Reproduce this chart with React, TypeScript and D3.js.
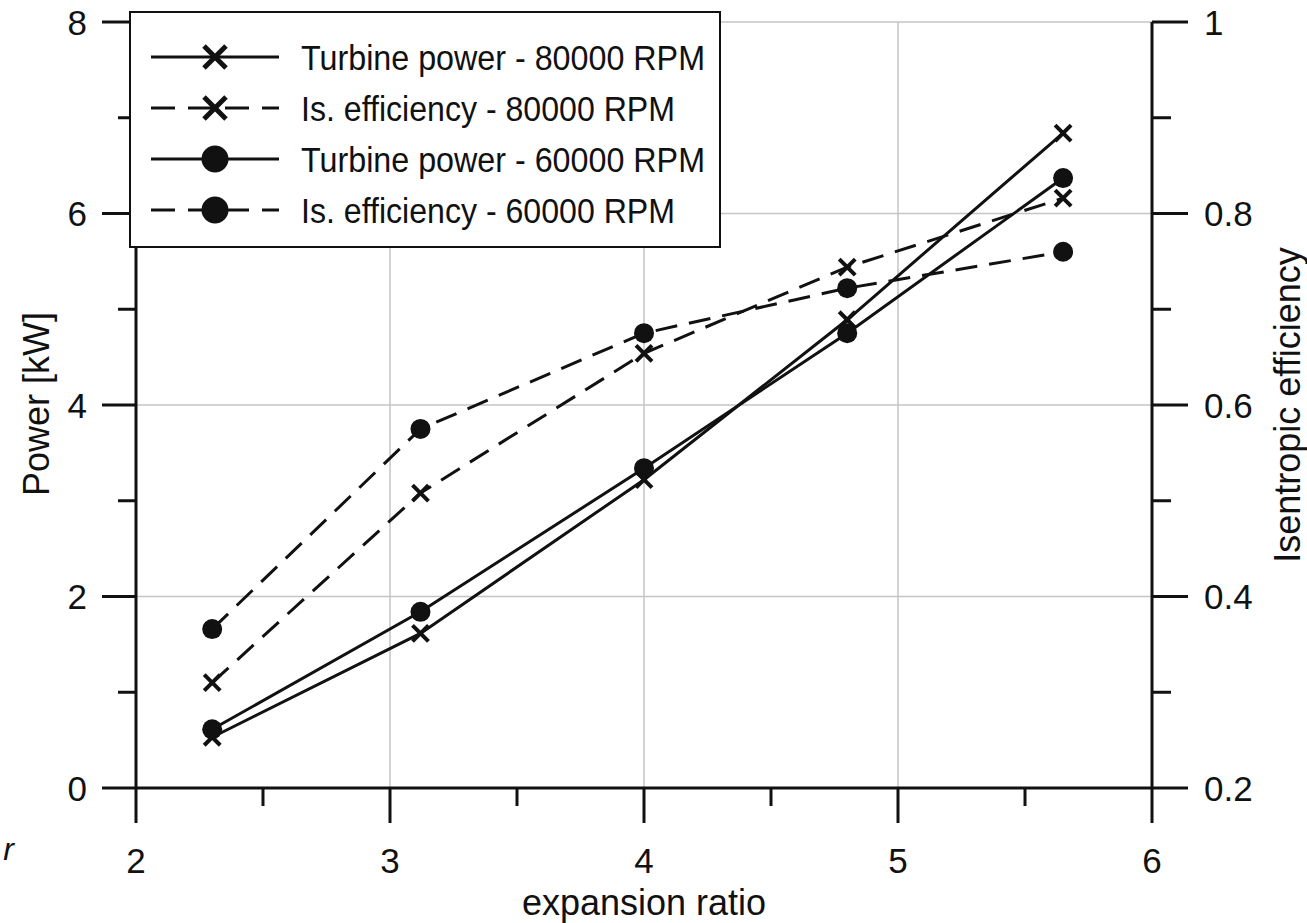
import React from "react";
import * as d3 from "d3";

const expansionRatio = [2.3, 3.12, 4.0, 4.8, 5.65];
const power80k = [0.53, 1.615, 3.22, 4.89, 6.84];
const power60k = [0.613, 1.84, 3.34, 4.75, 6.37];
const eff80k = [0.31, 0.508, 0.654, 0.744, 0.816];
const eff60k = [0.366, 0.575, 0.675, 0.722, 0.76];

const xMajor = [2, 3, 4, 5, 6];
const xMinor = [2.5, 3.5, 4.5, 5.5];
const yLMajor = [0, 2, 4, 6, 8];
const yLMinor = [1, 3, 5, 7];
const yRMajor = [0.2, 0.4, 0.6, 0.8, 1];
const yRMinor = [0.3, 0.5, 0.7, 0.9];

const legendLabels = [
  "Turbine power - 80000 RPM",
  "Is. efficiency - 80000 RPM",
  "Turbine power - 60000 RPM",
  "Is. efficiency - 60000 RPM",
];
const legendTextWidths = [404, 374, 404, 374];

const W = 1307;
const H = 923;
const FONT = "'Liberation Sans', Arial, Helvetica, sans-serif";
const INK = "#111";

export default function App() {
  const x = d3.scaleLinear().domain([2, 6]).range([136, 1152]);
  const yL = d3.scaleLinear().domain([0, 8]).range([788, 22]);
  const yR = d3.scaleLinear().domain([0.2, 1]).range([788, 22]);

  const series = [
    { vals: power80k, y: yL, dashed: false, marker: "x" },
    { vals: eff80k, y: yR, dashed: true, marker: "x" },
    { vals: power60k, y: yL, dashed: false, marker: "o" },
    { vals: eff60k, y: yR, dashed: true, marker: "o" },
  ];

  const dash = "22,12";

  const drawMarker = (type: string, cx: number, cy: number, size: number, sw: number, key: string) => {
    if (type === "o") {
      return <circle key={key} cx={cx} cy={cy} r={size / 2} fill={INK} />;
    }
    const h = size / 2 - sw / 2;
    return (
      <g key={key} stroke={INK} strokeWidth={sw} strokeLinecap="butt">
        <line x1={cx - h} y1={cy - h} x2={cx + h} y2={cy + h} />
        <line x1={cx - h} y1={cy + h} x2={cx + h} y2={cy - h} />
      </g>
    );
  };

  const [x0, x1] = x.range();
  const [yb, yt] = yL.range();

  return (
    <svg
      width={W}
      height={H}
      style={{ position: "absolute", left: 0, top: 0, background: "#fff" }}
      fontFamily={FONT}
    >
      <rect x={0} y={0} width={W} height={H} fill="#fff" />
      {/* grid */}
      <g stroke="#c4c4c4" strokeWidth={1.5}>
        {xMajor.slice(1, -1).map((v) => (
          <line key={"gx" + v} x1={x(v)} x2={x(v)} y1={yt} y2={yb} />
        ))}
        {yLMajor.slice(1).map((v) => (
          <line key={"gy" + v} x1={x0} x2={x1} y1={yL(v)} y2={yL(v)} />
        ))}
      </g>

      {/* axes */}
      <g stroke={INK} strokeWidth={3}>
        <line x1={x0} x2={x0} y1={yt} y2={yb} />
        <line x1={x1} x2={x1} y1={yt} y2={yb} />
        <line x1={x0} x2={x1} y1={yb} y2={yb} />
        {yLMajor.map((v) => (
          <line key={"lt" + v} x1={102} x2={x0} y1={yL(v)} y2={yL(v)} />
        ))}
        {yLMinor.map((v) => (
          <line key={"lm" + v} x1={118} x2={x0} y1={yL(v)} y2={yL(v)} />
        ))}
        {yRMajor.map((v) => (
          <line key={"rt" + v} x1={x1} x2={1188} y1={yR(v)} y2={yR(v)} />
        ))}
        {yRMinor.map((v) => (
          <line key={"rm" + v} x1={x1} x2={1171} y1={yR(v)} y2={yR(v)} />
        ))}
        {xMajor.map((v) => (
          <line key={"bt" + v} x1={x(v)} x2={x(v)} y1={yb} y2={823} />
        ))}
        {xMinor.map((v) => (
          <line key={"bm" + v} x1={x(v)} x2={x(v)} y1={yb} y2={806} />
        ))}
      </g>

      {/* tick labels */}
      <g fill={INK} fontSize={35}>
        {yLMajor.map((v) => (
          <text key={"ll" + v} x={87} y={yL(v) + 12.5} textAnchor="end">
            {d3.format("d")(v)}
          </text>
        ))}
        {yRMajor.map((v) => (
          <text key={"rl" + v} x={1204} y={yR(v) + 12.5} textAnchor="start">
            {v === 1 ? "1" : d3.format(".1f")(v)}
          </text>
        ))}
        {xMajor.map((v) => (
          <text key={"xl" + v} x={x(v)} y={873} textAnchor="middle">
            {d3.format("d")(v)}
          </text>
        ))}
      </g>

      {/* axis titles */}
      <text x={644} y={915} textAnchor="middle" fontSize={36} fill={INK}>
        expansion ratio
      </text>
      <text
        transform={`translate(49,404) rotate(-90)`}
        textAnchor="middle"
        fontSize={36}
        fill={INK}
      >
        Power [kW]
      </text>
      <text
        transform={`translate(1300,405) rotate(-90)`}
        textAnchor="middle"
        fontSize={36}
        fill={INK}
      >
        Isentropic efficiency
      </text>
      <text x={14} y={860} textAnchor="end" fontSize={32} fontStyle="italic" fill={INK}>
        r
      </text>

      {/* series */}
      {series.map((s, i) => {
        const line = d3
          .line<number>()
          .x((_, j) => x(expansionRatio[j]))
          .y((d) => s.y(d));
        return (
          <g key={"s" + i}>
            <path
              d={line(s.vals) || ""}
              fill="none"
              stroke={INK}
              strokeWidth={3}
              strokeDasharray={s.dashed ? dash : undefined}
            />
            {s.vals.map((v, j) =>
              drawMarker(s.marker, x(expansionRatio[j]), s.y(v), 20, 4, `m${i}-${j}`)
            )}
          </g>
        );
      })}

      {/* legend */}
      <rect x={130} y={12} width={590} height={235} fill="#fff" stroke={INK} strokeWidth={2} />
      {legendLabels.map((lab, i) => {
        const s = series[i];
        const cy = 57 + i * 51;
        return (
          <g key={"lg" + i}>
            <line
              x1={151}
              x2={279}
              y1={cy}
              y2={cy}
              stroke={INK}
              strokeWidth={3}
              strokeDasharray={s.dashed ? "24,13" : undefined}
            />
            {drawMarker(s.marker, 215, cy, 27, 5, "lm" + i)}
            <text
              x={301}
              y={cy + 13}
              fontSize={35}
              fill={INK}
              textLength={legendTextWidths[i]}
              lengthAdjust="spacingAndGlyphs"
            >
              {lab}
            </text>
          </g>
        );
      })}
    </svg>
  );
}
